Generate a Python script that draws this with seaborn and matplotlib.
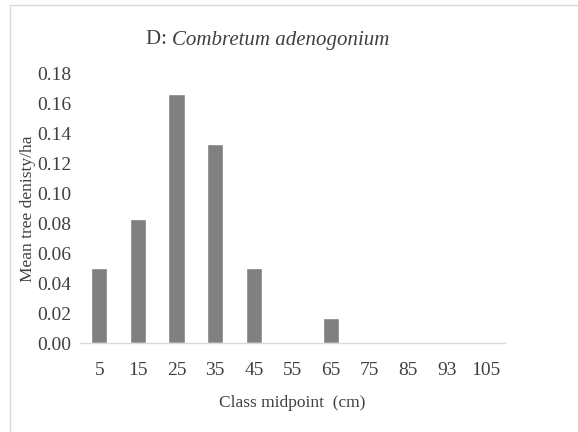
import matplotlib
matplotlib.use("Agg")
import matplotlib.pyplot as plt
import seaborn as sns
import pandas as pd

midpoints = ["5", "15", "25", "35", "45", "55", "65", "75", "85", "93", "105"]
density = [0.05, 0.0833, 0.1667, 0.1333, 0.05, 0.0, 0.0167, 0.0, 0.0, 0.0, 0.0]

df = pd.DataFrame({"mid": midpoints, "dens": density})

sns.set_style("white")
plt.rcParams["font.family"] = ["Liberation Serif", "DejaVu Serif"]

fig = plt.figure(figsize=(5.78, 4.32), dpi=100)
ax = fig.add_axes([80 / 578, 1 - 343 / 432, 425 / 578, 269 / 432])

sns.barplot(data=df, x="mid", y="dens", color="#808080", width=0.42,
            saturation=1, ax=ax)

ax.set_ylim(0, 0.18)
ax.set_yticks([i * 0.02 for i in range(10)])
ax.set_yticklabels([f"{i * 0.02:.2f}" for i in range(10)])
ax.tick_params(axis="both", length=0, labelsize=14, colors="#404040")
ax.tick_params(axis="y", pad=6)
ax.tick_params(axis="x", pad=14)
for s in ["top", "right", "left"]:
    ax.spines[s].set_visible(False)
ax.spines["bottom"].set_color("#d9d9d9")
ax.spines["bottom"].set_linewidth(1)

ax.set_xlabel("Class midpoint  (cm)", fontsize=12.5, color="#404040", labelpad=11)
ax.set_ylabel("Mean tree denisty/ha", fontsize=12.5, color="#404040", labelpad=1)

ty = 1 - 40 / 432
fig.text(172 / 578, ty, "D: ", fontsize=15, color="#404040",
         ha="right", va="center")
fig.text(172 / 578, ty, "Combretum adenogonium", fontsize=15,
         color="#404040", ha="left", va="center", style="italic")

# chart frame (left and top edges visible)
fig.add_artist(plt.Line2D([10 / 578, 10 / 578], [0, 1 - 5 / 432],
                          color="#d9d9d9", lw=1))
fig.add_artist(plt.Line2D([10 / 578, 1], [1 - 5 / 432, 1 - 5 / 432],
                          color="#d9d9d9", lw=1))

fig.savefig("out.png", dpi=100)
